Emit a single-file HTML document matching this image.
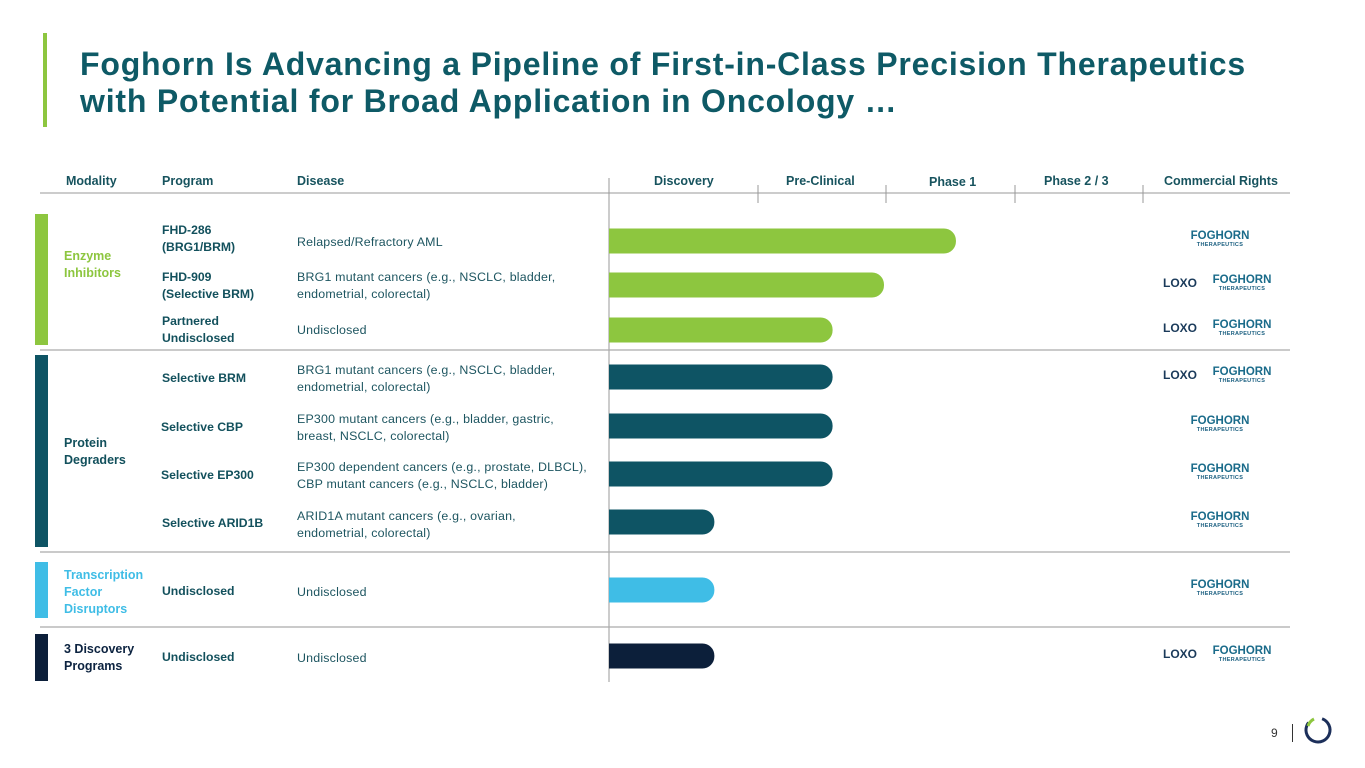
<!DOCTYPE html>
<html><head><meta charset="utf-8"><style>
body{margin:0;width:1365px;height:768px;background:#fff;position:relative;overflow:hidden;font-family:"Liberation Sans",Arial,sans-serif}
.a{position:absolute}
.t{color:#0e5a66;font-weight:bold;font-size:32px;letter-spacing:.8px;line-height:37px;left:80px;top:46px;white-space:nowrap}
.h{font-size:12.5px;font-weight:bold;color:#17535e;top:174px}
.p{font-size:12.2px;font-weight:bold;color:#12505c;line-height:17px}
.d{font-size:12.4px;letter-spacing:.2px;color:#1d5560;line-height:17px}
.m{font-size:12.5px;font-weight:bold;line-height:17px}
.fog{font-weight:bold;color:#1a6b8a;font-size:11.5px;text-align:center;line-height:10px}
.fog small{display:block;font-size:5.5px;color:#1a5f80;letter-spacing:.3px;line-height:8px}
.loxo{font-weight:bold;color:#1a3a5a;font-size:12px;line-height:10px}
</style></head><body>
<div class="a" style="left:43px;top:33px;width:4px;height:94px;background:#8dc63f"></div>
<div class="a t">Foghorn Is Advancing a Pipeline of First-in-Class Precision Therapeutics<br>with Potential for Broad Application in Oncology …</div>
<div class="a h" style="left:66px">Modality</div>
<div class="a h" style="left:162px">Program</div>
<div class="a h" style="left:297px">Disease</div>
<div class="a h" style="left:654px">Discovery</div>
<div class="a h" style="left:786px">Pre-Clinical</div>
<div class="a h" style="left:929px;top:175px">Phase 1</div>
<div class="a h" style="left:1044px">Phase 2 / 3</div>
<div class="a h" style="left:1164px">Commercial Rights</div>
<svg class="a" style="left:0;top:0" width="1365" height="768" id="chart"></svg>

<div class="a m" style="left:64px;top:248px;color:#8dc63f">Enzyme<br>Inhibitors</div>
<div class="a m" style="left:64px;top:435px;color:#12505c">Protein<br>Degraders</div>
<div class="a m" style="left:64px;top:567px;color:#3fbde6">Transcription<br>Factor<br>Disruptors</div>
<div class="a m" style="left:64px;top:641px;color:#0c2340">3 Discovery<br>Programs</div>

<div class="a p" style="left:162px;top:222px">FHD-286<br>(BRG1/BRM)</div>
<div class="a p" style="left:162px;top:269px">FHD-909<br>(Selective BRM)</div>
<div class="a p" style="left:162px;top:313px">Partnered<br>Undisclosed</div>
<div class="a p" style="left:162px;top:370px">Selective BRM</div>
<div class="a p" style="left:161px;top:419px">Selective CBP</div>
<div class="a p" style="left:161px;top:467px">Selective EP300</div>
<div class="a p" style="left:162px;top:515px">Selective ARID1B</div>
<div class="a p" style="left:162px;top:583px">Undisclosed</div>
<div class="a p" style="left:162px;top:649px">Undisclosed</div>

<div class="a d" style="left:297px;top:234px">Relapsed/Refractory AML</div>
<div class="a d" style="left:297px;top:269px">BRG1 mutant cancers (e.g., NSCLC, bladder,<br>endometrial, colorectal)</div>
<div class="a d" style="left:297px;top:322px">Undisclosed</div>
<div class="a d" style="left:297px;top:362px">BRG1 mutant cancers (e.g., NSCLC, bladder,<br>endometrial, colorectal)</div>
<div class="a d" style="left:297px;top:411px">EP300 mutant cancers (e.g., bladder, gastric,<br>breast, NSCLC, colorectal)</div>
<div class="a d" style="left:297px;top:459px">EP300 dependent cancers (e.g., prostate, DLBCL),<br>CBP mutant cancers (e.g., NSCLC, bladder)</div>
<div class="a d" style="left:297px;top:508px">ARID1A mutant cancers (e.g., ovarian,<br>endometrial, colorectal)</div>
<div class="a d" style="left:297px;top:584px">Undisclosed</div>
<div class="a d" style="left:297px;top:650px">Undisclosed</div>

<div id="logos"></div>
<div class="a" style="left:1271px;top:726px;font-size:12px;color:#333">9</div>
<div class="a" style="left:1292px;top:724px;width:1px;height:18px;background:#333"></div>
<svg class="a" style="left:1302px;top:714px" width="32" height="32">
<circle cx="16" cy="16" r="12" fill="none" stroke="#1c2f5a" stroke-width="3" stroke-dasharray="60 16" transform="rotate(-70 16 16)"/>
<path d="M6 12 A12 12 0 0 1 12 5" fill="none" stroke="#8dc63f" stroke-width="3"/>
</svg>
<script>
const programs=["FHD-286","FHD-909","Partnered Undisclosed","Selective BRM","Selective CBP","Selective EP300","Selective ARID1B","TF Undisclosed","Discovery Undisclosed"];
const progress=[2.7,2.14,1.74,1.74,1.74,1.74,0.82,0.82,0.82];
const rowY=[241,285,330,377,426,474,522,590,656];
const colors=["#8dc63f","#8dc63f","#8dc63f","#0e5464","#0e5464","#0e5464","#0e5464","#3fbde6","#0c1f3a"];
const partnered=[false,true,true,true,false,false,false,false,true];
const NS="http://www.w3.org/2000/svg";
const svg=document.getElementById('chart');
const x0=609,unit=128.5;
function xs(v){return x0+v*unit;}
function el(t,a){const e=document.createElementNS(NS,t);for(const k in a)e.setAttribute(k,a[k]);svg.appendChild(e);return e;}
el('line',{x1:40,y1:193,x2:1290,y2:193,stroke:'#999','stroke-width':1});
[758,886,1015,1143].forEach(x=>el('line',{x1:x,y1:185,x2:x,y2:203,stroke:'#999','stroke-width':1}));
el('line',{x1:609,y1:178,x2:609,y2:682,stroke:'#999','stroke-width':1});
[350,552,627].forEach(y=>el('line',{x1:40,y1:y,x2:1290,y2:y,stroke:'#aaa','stroke-width':1.2}));
[[214,345,'#8dc63f'],[355,547,'#0e5464'],[562,618,'#3fbde6'],[634,681,'#0c1f3a']].forEach(b=>{
const r=el('rect',{x:35,y:b[0],width:13,height:b[1]-b[0],fill:b[2]});

});
progress.forEach((v,i)=>{
const w=xs(v)-x0,h=25,y=rowY[i]-h/2,r=12;
const p=el('path',{d:`M${x0} ${y}H${x0+w-r}A${r} ${r} 0 0 1 ${x0+w} ${y+r}V${y+h-r}A${r} ${r} 0 0 1 ${x0+w-r} ${y+h}H${x0}Z`,fill:colors[i]});


});
const L=document.getElementById('logos');
rowY.forEach((y,i)=>{
const d=document.createElement('div');d.className='a';
d.style.top=(y-10)+'px';


if(partnered[i]){d.style.left='1163px';d.innerHTML='<div class="a loxo" style="left:0;top:3px">LOXO</div><div class="a fog" style="left:46px;top:0;width:66px">FOGHORN<small>THERAPEUTICS</small></div>';}
else{d.style.left='1187px';d.innerHTML='<div class="a fog" style="left:0;top:0;width:66px">FOGHORN<small>THERAPEUTICS</small></div>';}
L.appendChild(d);});
</script>
</body></html>
